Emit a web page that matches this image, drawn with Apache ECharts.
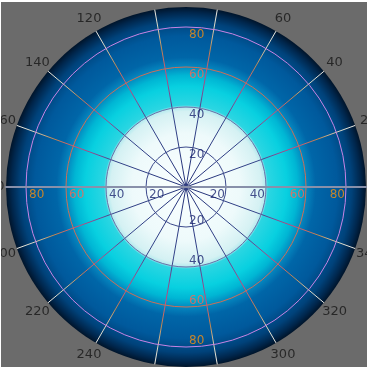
<!DOCTYPE html>
<html><head><meta charset="utf-8">
<script src="https://cdn.jsdelivr.net/npm/echarts@6/dist/echarts.min.js"></script>
<style>
html,body{margin:0;padding:0;background:#fff;width:367px;height:367px;overflow:hidden}
#c{position:absolute;left:1px;top:2px;width:366px;height:365px}
</style>
</head><body><div id="c"></div>
<script>
// ---- data ----
const angleTicks = [0,20,40,60,80,100,120,140,160,180,200,220,240,260,280,300,320,340];
const radiusTicks = [20,40,60,80];
const radiusMax = 90;
const labelDirections = [0,90,180,270];

// ---- styles ----
const FONT = 'DejaVu Sans';
const CENTER = [185,185];
const RADIUS = 180;
const ANGLE_LABEL_R = radiusMax * 194 / 180; // label ring just outside the plot
const radiusLabelColor = {20:'#1c2670',40:'#1c2670',60:'#ff6450',80:'#f59010'};
const circleColor = {0:'transparent',20:'#3c4a8c',40:'#6c70a8',60:'#cc6e58',80:'#c884e4'};
const dirLabel = {
  0:{align:'right',verticalAlign:'top',offset:[-1,2]},
  90:{align:'left',verticalAlign:'top',offset:[3,2]},
  180:{align:'left',verticalAlign:'top',offset:[3,2]},
  270:{align:'left',verticalAlign:'bottom',offset:[3,0]}
};

const chart = echarts.init(document.getElementById('c'));

const step = angleTicks[1]-angleTicks[0];
const splitColors = [0].concat(radiusTicks).map(v=>circleColor[v]).concat(['transparent']);

const labelData = [];
labelDirections.forEach(d=>{
  radiusTicks.forEach(r=>{
    labelData.push({
      value:[r,d],
      label:Object.assign({show:true,formatter:String(r),color:radiusLabelColor[r],
        fontFamily:FONT,fontSize:12,position:'inside'},dirLabel[d])
    });
  });
});

const angleLabelData = angleTicks.map(a=>({
  value:[ANGLE_LABEL_R,a],
  label:{show:true,formatter:String(a),color:'#161616',fontFamily:FONT,fontSize:13,
    position:'inside',align:'center',verticalAlign:'middle'}
}));

const spokeGradient = {
  type:'radial',x:0.5,y:0.5,r:0.508,
  colorStops:[
    {offset:0,color:'#243278'},
    {offset:0.42,color:'#34448a'},
    {offset:0.52,color:'#7a4a94'},
    {offset:0.64,color:'#d04a78'},
    {offset:0.78,color:'#c08850'},
    {offset:0.9,color:'#d8d4c0'},
    {offset:1,color:'#eeeeea'}
  ]
};

const discGradient = {
  type:'radial',x:0.5,y:0.5,r:0.5,
  colorStops:[
    {offset:0,color:'#fbffff'},
    {offset:0.3,color:'#eefafb'},
    {offset:0.42,color:'#d4f1f3'},
    {offset:0.44,color:'#b8ebef'},
    {offset:0.455,color:'#2cd6e2'},
    {offset:0.56,color:'#08d0e0'},
    {offset:0.62,color:'#00b6d4'},
    {offset:0.675,color:'#0482bc'},
    {offset:0.72,color:'#0066a8'},
    {offset:0.84,color:'#00599c'},
    {offset:0.92,color:'#00427a'},
    {offset:0.97,color:'#00264c'},
    {offset:1,color:'#00142a'}
  ]
};

chart.setOption({
  backgroundColor:'#6b6b6b',
  animation:false,
  polar:[{center:CENTER,radius:RADIUS},{center:CENTER,radius:RADIUS}],
  angleAxis:[{
    polarIndex:0,type:'value',min:0,max:360,interval:step,startAngle:0,clockwise:false,z:5,
    axisLine:{show:false},axisTick:{show:false},axisLabel:{show:false},
    splitLine:{show:true,lineStyle:{color:spokeGradient,width:1}}
  },{
    polarIndex:1,type:'value',min:0,max:360,startAngle:180,clockwise:false,show:false
  }],
  radiusAxis:[{
    polarIndex:0,type:'value',min:0,max:radiusMax,interval:20,z:6,
    axisLine:{show:true,lineStyle:{color:'#8890aa',width:2}},
    axisTick:{show:false},axisLabel:{show:false},
    splitLine:{show:true,lineStyle:{color:splitColors,width:1}}
  },{
    polarIndex:1,type:'value',min:0,max:radiusMax,z:6,
    axisLine:{show:true,lineStyle:{color:'#8890aa',width:2}},
    axisTick:{show:false},axisLabel:{show:false},splitLine:{show:false}
  }],
  series:[{
    type:'pie',center:CENTER,radius:[0,RADIUS],silent:true,z:1,
    label:{show:false},labelLine:{show:false},
    itemStyle:{color:discGradient,borderWidth:0},
    emphasis:{disabled:true},
    data:[{value:1}]
  },{
    type:'scatter',coordinateSystem:'polar',polarIndex:0,symbolSize:1,z:10,silent:true,
    itemStyle:{color:'rgba(0,0,0,0)'},
    data:labelData
  },{
    type:'scatter',coordinateSystem:'polar',polarIndex:0,symbolSize:1,z:10,silent:true,clip:false,
    itemStyle:{color:'rgba(0,0,0,0)'},
    labelLayout:{hideOverlap:false},
    data:angleLabelData
  }]
});
</script>
</body></html>
